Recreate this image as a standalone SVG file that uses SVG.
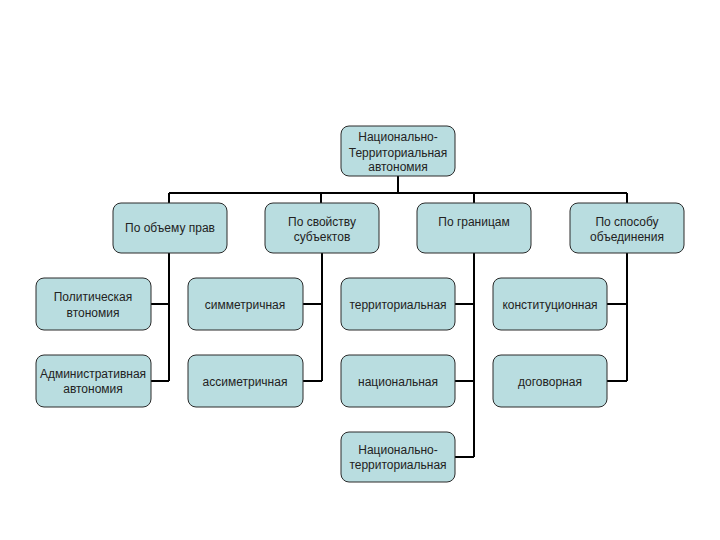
<svg xmlns="http://www.w3.org/2000/svg" width="720" height="540" viewBox="0 0 720 540">
<style>
.box{fill:#b9dde0;stroke:#2a2a2a;stroke-width:1}
.t{font-family:"Liberation Sans",Arial,sans-serif;font-size:12px;fill:#222;text-anchor:middle}
.c{stroke:#000;stroke-width:2;fill:none}
</style>
<rect width="720" height="540" fill="#fff"/>
<g id="connectors">
<path class="c" d="M398 176V193M169 193H627M169 193V203M321 193V203M474 193V203M627 193V203"/>
<path class="c" d="M169 252V381M151 304H169M151 381H169"/>
<path class="c" d="M322 252V381M303 304H322M303 381H322"/>
<path class="c" d="M474 252V457M455 304H474M455 381H474M455 457H474"/>
<path class="c" d="M627 252V381M607 304H627M607 381H627"/>
</g>
<g id="root"><rect class="box" x="341" y="126" width="114" height="50" rx="8"/><text class="t" x="398" y="141">Национально-</text><text class="t" x="398" y="157">Территориальная</text><text class="t" x="398" y="171">автономия</text></g>
<g id="n1"><rect class="box" x="113" y="203" width="114" height="50" rx="8"/><text class="t" x="170" y="232">По объему прав</text></g>
<g id="n2"><rect class="box" x="265" y="203" width="114" height="50" rx="8"/><text class="t" x="322" y="226">По свойству</text><text class="t" x="322" y="241">субъектов</text></g>
<g id="n3"><rect class="box" x="417" y="203" width="114" height="50" rx="8"/><text class="t" x="474" y="226">По границам</text></g>
<g id="n4"><rect class="box" x="570" y="203" width="114" height="50" rx="8"/><text class="t" x="627" y="226">По способу</text><text class="t" x="627" y="241">объединения</text></g>
<g id="n1a"><rect class="box" x="36" y="278" width="115" height="52" rx="8"/><text class="t" x="93" y="301">Политическая</text><text class="t" x="93" y="317">втономия</text></g>
<g id="n1b"><rect class="box" x="36" y="355" width="115" height="52" rx="8"/><text class="t" x="93" y="378">Административная</text><text class="t" x="93" y="393">автономия</text></g>
<g id="n2a"><rect class="box" x="188" y="278" width="115" height="52" rx="8"/><text class="t" x="245" y="309">симметричная</text></g>
<g id="n2b"><rect class="box" x="188" y="355" width="115" height="52" rx="8"/><text class="t" x="245" y="386">ассиметричная</text></g>
<g id="n3a"><rect class="box" x="341" y="278" width="114" height="52" rx="8"/><text class="t" x="398" y="309">территориальная</text></g>
<g id="n3b"><rect class="box" x="341" y="355" width="114" height="52" rx="8"/><text class="t" x="398" y="386">национальная</text></g>
<g id="n3c"><rect class="box" x="341" y="432" width="114" height="50" rx="8"/><text class="t" x="398" y="454">Национально-</text><text class="t" x="398" y="469">территориальная</text></g>
<g id="n4a"><rect class="box" x="493" y="278" width="114" height="52" rx="8"/><text class="t" x="550" y="309">конституционная</text></g>
<g id="n4b"><rect class="box" x="493" y="355" width="114" height="52" rx="8"/><text class="t" x="550" y="386">договорная</text></g>
</svg>
